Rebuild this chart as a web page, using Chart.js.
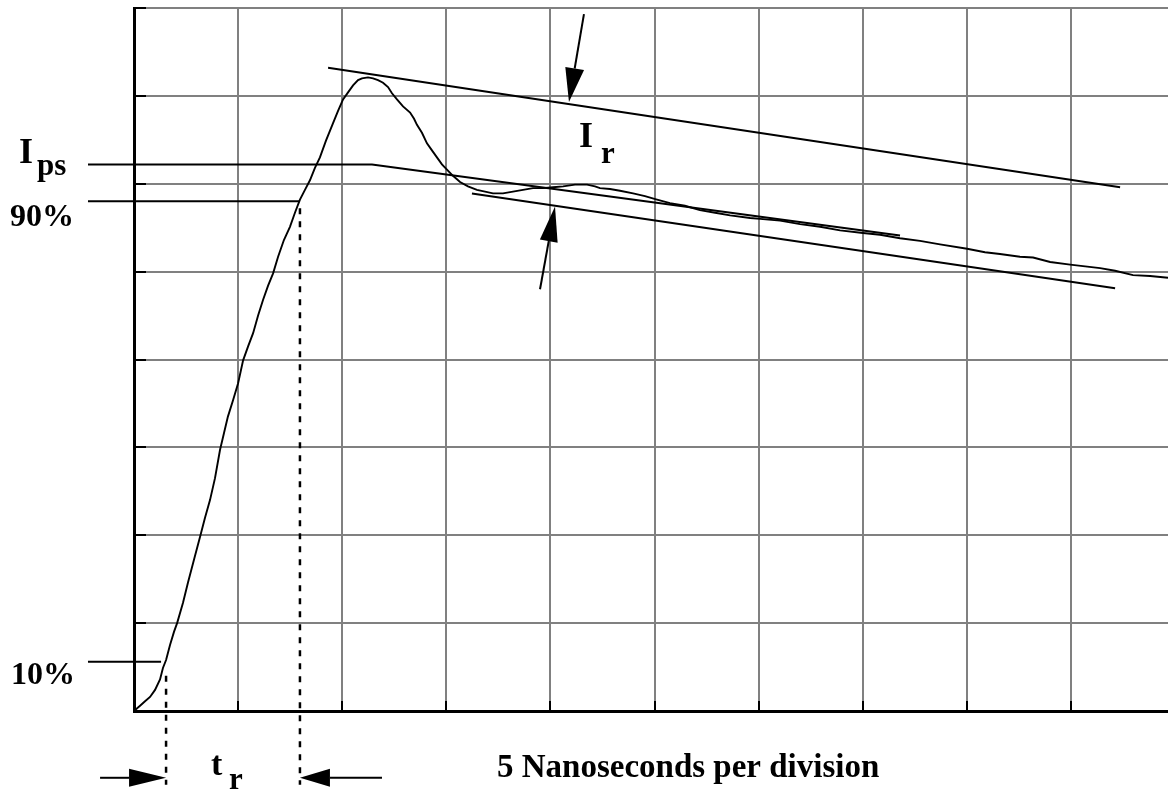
<!DOCTYPE html>
<html><head><meta charset="utf-8">
<script src="https://cdn.jsdelivr.net/npm/chart.js@4.4.1/dist/chart.umd.min.js"></script>
<style>html,body{margin:0;padding:0;background:#fff;overflow:hidden}</style>
</head><body>
<canvas id="c" width="1168" height="790"></canvas>
<script>
// x: time in nanoseconds (5 ns per division); y: amplitude in vertical divisions
const curveTime = [0,0.29,0.53,0.77,1.01,1.25,1.39,1.54,1.73,1.92,2.07,2.35,2.59,2.88,3.17,3.41,3.65,3.89,4.13,4.32,4.51,4.76,5.00,5.24,5.48,5.72,5.96,6.20,6.44,6.68,6.92,7.20,7.49,7.73,7.97,8.21,8.45,8.69,8.93,9.22,9.56,9.80,10.04,10.28,10.52,10.76,10.95,11.24,11.48,11.72,11.96,12.20,12.39,12.63,12.92,13.26,13.45,13.59,13.83,14.07,14.31,14.55,14.79,15.03,15.32,15.66,16.04,16.47,16.86,17.24,17.72,18.20,18.68,19.16,19.64,20.12,20.61,21.18,21.76,22.14,22.38,22.86,23.34,23.97,24.54,25.12,25.74,26.46,27.18,27.91,28.63,29.59,30.07,31.03,31.99,32.95,33.91,35.01,35.83,36.79,37.75,38.71,40.01,40.87,41.59,42.55,43.18,44.00,44.96,45.68,46.40,47.12,47.98,48.80,49.66];
const curveAmp = [0,0.06,0.11,0.16,0.24,0.36,0.49,0.58,0.75,0.90,1.00,1.23,1.46,1.72,1.98,2.20,2.40,2.65,2.97,3.16,3.35,3.54,3.73,3.99,4.15,4.30,4.50,4.68,4.84,4.98,5.17,5.36,5.51,5.67,5.82,5.93,6.04,6.18,6.30,6.49,6.69,6.83,6.96,7.04,7.12,7.18,7.20,7.21,7.20,7.18,7.15,7.10,7.03,6.96,6.88,6.81,6.74,6.67,6.58,6.46,6.38,6.30,6.22,6.16,6.09,6.02,5.97,5.93,5.91,5.89,5.89,5.91,5.93,5.95,5.95,5.96,5.97,5.99,5.99,5.97,5.95,5.94,5.92,5.89,5.86,5.82,5.78,5.75,5.70,5.67,5.64,5.61,5.60,5.58,5.54,5.51,5.47,5.44,5.42,5.38,5.35,5.31,5.26,5.22,5.20,5.17,5.16,5.11,5.08,5.06,5.04,5.01,4.96,4.95,4.93];

// axis ranges / ticks
const xRange = [0, 49.66];
const yRange = [0, 8];
const xStep = 5;
const yStep = 1;

// annotation lines [x...], [y...]
const ipsLineX = [-2.21, 11.43, 36.79];
const ipsLineY = [6.22, 6.22, 5.41];
const p90LineX = [-2.21, 7.97];
const p90LineY = [5.80, 5.80];
const p10LineX = [-2.21, 1.30];
const p10LineY = [0.56, 0.56];
const irUpperX = [9.32, 47.36];
const irUpperY = [7.32, 5.96];
const irLowerX = [16.23, 47.12];
const irLowerY = [5.89, 4.81];
const tr90DotX = [7.97, 7.97];
const tr90DotY = [5.72, -0.84];
const tr10DotX = [1.54, 1.54];
const tr10DotY = [0.40, -0.84];

// arrows: [tailX, tailY, tipX, tipY]
const arrowIrTop = [21.61, 7.93, 20.89, 6.93];
const arrowIrBottom = [19.50, 4.80, 20.22, 5.74];
const arrowTrLeft = [-1.63, -0.76, 1.54, -0.76];
const arrowTrRight = [11.91, -0.76, 7.97, -0.76];

// text labels
const labelIps = ['I', 'ps'];
const label90 = '90%';
const label10 = '10%';
const labelTr = ['t', 'r'];
const labelIr = ['I', 'r'];
const xAxisTitle = '5 Nanoseconds per division';

const pts = (xs, ys) => xs.map((v, i) => ({x: v, y: ys[i]}));
const annLine = (xs, ys, dash, w) => ({
  data: pts(xs, ys), borderColor: '#000', borderWidth: w || 2, pointRadius: 0,
  showLine: true, clip: false, borderDash: dash || [], tension: 0
});

const FONT = '"Liberation Serif", "Times New Roman", serif';

const annot = {
  id: 'annot',
  afterDatasetsDraw(chart) {
    const {ctx, scales: {x, y}, chartArea: ca} = chart;
    ctx.save();
    ctx.strokeStyle = '#000';
    ctx.fillStyle = '#000';
    ctx.lineWidth = 2;
    ctx.lineCap = 'butt';
    // inward tick marks
    y.ticks.forEach(t => {
      const py = Math.round(y.getPixelForValue(t.value));
      ctx.beginPath(); ctx.moveTo(ca.left, py); ctx.lineTo(ca.left + 12, py); ctx.stroke();
    });
    x.ticks.forEach(t => {
      const px = Math.round(x.getPixelForValue(t.value));
      ctx.beginPath(); ctx.moveTo(px, ca.bottom); ctx.lineTo(px, ca.bottom - 10); ctx.stroke();
    });
    // arrows
    const drawArrow = (a, len, hw) => {
      const x0 = x.getPixelForValue(a[0]), y0 = y.getPixelForValue(a[1]);
      const x1 = x.getPixelForValue(a[2]), y1 = y.getPixelForValue(a[3]);
      const dx = x1 - x0, dy = y1 - y0, d = Math.hypot(dx, dy);
      const ux = dx / d, uy = dy / d;
      const bx = x1 - ux * len, by = y1 - uy * len;
      ctx.beginPath(); ctx.moveTo(x0, y0); ctx.lineTo(bx, by); ctx.stroke();
      ctx.beginPath();
      ctx.moveTo(x1, y1);
      ctx.lineTo(bx - uy * hw, by + ux * hw);
      ctx.lineTo(bx + uy * hw, by - ux * hw);
      ctx.closePath(); ctx.fill();
    };
    drawArrow(arrowIrTop, 34, 9.5);
    drawArrow(arrowIrBottom, 35, 9);
    drawArrow(arrowTrLeft, 37, 9);
    drawArrow(arrowTrRight, 30, 9);
    // texts
    ctx.textBaseline = 'alphabetic';
    ctx.textAlign = 'left';
    const txt = (s, px, py, size) => { ctx.font = 'bold ' + size + 'px ' + FONT; ctx.fillText(s, px, py); };
    txt(labelIps[0], 19, 163, 36);
    txt(labelIps[1], 37, 175, 31);
    txt(label90, 10, 226, 32);
    txt(label10, 11, 684, 32);
    txt(labelTr[0], 211, 775, 34);
    txt(labelTr[1], 229, 789, 31);
    txt(labelIr[0], 579, 147, 36);
    txt(labelIr[1], 601, 163, 31);
    txt(xAxisTitle, 497, 777, 33);
    ctx.restore();
  }
};

new Chart(document.getElementById('c'), {
  type: 'scatter',
  data: {
    datasets: [
      {data: pts(curveTime, curveAmp), borderColor: '#000', borderWidth: 1.9, pointRadius: 0, showLine: true, tension: 0, clip: false},
      annLine(ipsLineX, ipsLineY),
      annLine(p90LineX, p90LineY),
      annLine(p10LineX, p10LineY),
      annLine(irUpperX, irUpperY),
      annLine(irLowerX, irLowerY),
      annLine(tr90DotX, tr90DotY, [6, 7], 2.5),
      annLine(tr10DotX, tr10DotY, [6, 7], 2.5)
    ]
  },
  options: {
    responsive: false,
    animation: false,
    events: [],
    layout: {padding: {left: 134, right: 0, top: 8, bottom: 79}},
    plugins: {legend: {display: false}, tooltip: {enabled: false}, title: {display: false}},
    scales: {
      x: {
        type: 'linear', min: xRange[0], max: xRange[1],
        ticks: {display: false, stepSize: xStep, includeBounds: false},
        grid: {color: '#808080', lineWidth: 2, drawTicks: false},
        border: {display: true, color: '#000', width: 3}
      },
      y: {
        type: 'linear', min: yRange[0], max: yRange[1],
        ticks: {display: false, stepSize: yStep},
        grid: {color: '#808080', lineWidth: 2, drawTicks: false},
        border: {display: true, color: '#000', width: 3}
      }
    }
  },
  plugins: [annot]
});
</script>
</body></html>
